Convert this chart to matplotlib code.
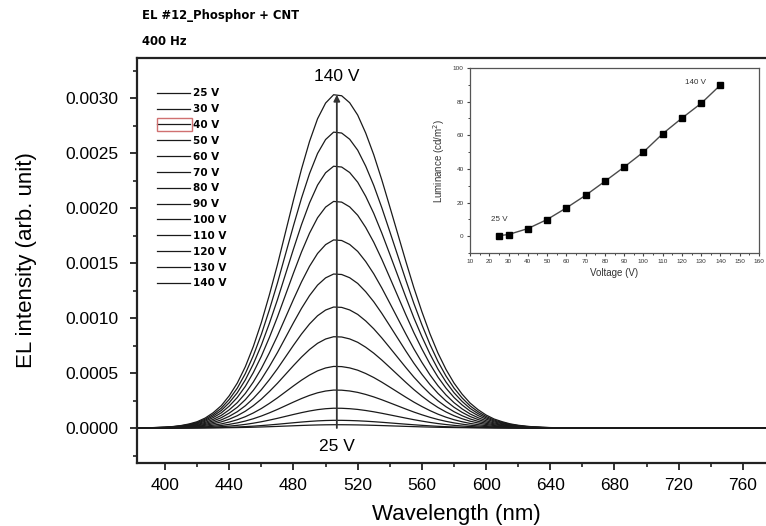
import numpy as np
import matplotlib
matplotlib.use('Agg')
import matplotlib.pyplot as plt
from matplotlib.ticker import MultipleLocator, FormatStrFormatter
from matplotlib.patches import Rectangle

# applied voltages and peak EL intensity
voltages = [25, 30, 40, 50, 60, 70, 80, 90, 100, 110, 120, 130, 140]
peak_intensity = [0.00003, 0.00007, 0.00018, 0.000345, 0.00056, 0.00083, 0.0011,
                  0.0014, 0.00171, 0.00206, 0.00238, 0.00269, 0.00303]

# normalised spectral shape
wavelength = [380, 390, 400, 405, 410, 415, 420, 425, 430, 435, 440, 445, 450, 455,
              460, 465, 470, 475, 480, 485, 490, 495, 500, 505, 510, 515, 520, 525,
              530, 535, 540, 545, 550, 555, 560, 565, 570, 575, 580, 585, 590, 595,
              600, 605, 610, 615, 620, 625, 630, 635, 640, 650, 660, 780]
shape = [0.0, 0.0008, 0.0026, 0.0045, 0.0075, 0.0122, 0.019, 0.030, 0.046, 0.067,
         0.097, 0.135, 0.184, 0.245, 0.317, 0.40, 0.49, 0.587, 0.684, 0.777, 0.86,
         0.928, 0.975, 1.0, 0.997, 0.976, 0.939, 0.885, 0.82, 0.745, 0.664, 0.582,
         0.50, 0.421, 0.349, 0.283, 0.225, 0.176, 0.135, 0.102, 0.075, 0.055, 0.039,
         0.027, 0.019, 0.0125, 0.0083, 0.0054, 0.0034, 0.0021, 0.0013, 0.0004, 0.0, 0.0]

# inset: luminance vs voltage
luminance = [0.3, 1.0, 4.5, 9.9, 16.8, 24.3, 32.6, 41.1, 50.0, 60.9, 70.2, 79.0, 89.9]

plt.rcParams['font.family'] = ['Liberation Sans', 'DejaVu Sans']

W, H = 766, 526
fig = plt.figure(figsize=(W / 100, H / 100), dpi=100)
ax = fig.add_axes([137 / W, (H - 463) / H, 638 / W, 405 / H])

shape = np.array(shape)
for v, p in zip(voltages, peak_intensity):
    ax.plot(wavelength, p * shape, color='#1a1a1a', lw=0.9, label=f'{v} V')

ax.set_xlim(382.5, 780)
ax.set_ylim(-0.000318, 0.003364)
ax.xaxis.set_major_locator(MultipleLocator(40))
ax.xaxis.set_minor_locator(MultipleLocator(20))
ax.yaxis.set_major_locator(MultipleLocator(0.0005))
ax.yaxis.set_minor_locator(MultipleLocator(0.00025))
ax.yaxis.set_major_formatter(FormatStrFormatter('%.4f'))
ax.tick_params(which='major', length=5, width=1.3, labelsize=12.5, color='#222222')
ax.tick_params(which='minor', length=3, width=1.2, color='#222222')
ax.tick_params(axis='y', which='major', pad=8.5)
ax.tick_params(axis='x', which='major', pad=5.5)
ax.tick_params(top=False, right=False)
for s in ax.spines.values():
    s.set_linewidth(1.6)
    s.set_color('#222222')
ax.set_xlabel('Wavelength (nm)', fontsize=16, labelpad=8)
ax.set_ylabel('EL intensity (arb. unit)', fontsize=16, labelpad=20)

# arrow from 25 V to 140 V
peak_wl = 507
ax.annotate('', xy=(peak_wl, peak_intensity[-1]), xytext=(peak_wl, 0),
            arrowprops=dict(arrowstyle='-|>', color='#333333', lw=1.3,
                            mutation_scale=9, shrinkA=0, shrinkB=0))
ax.text(peak_wl, 0.00320, '140 V', ha='center', va='center', fontsize=12.5)
ax.text(peak_wl, -0.00017, '25 V', ha='center', va='center', fontsize=12.5)

leg = ax.legend(loc='upper left', bbox_to_anchor=(0.031, 0.925), frameon=False,
                prop={'family': 'DejaVu Sans', 'weight': 'bold', 'size': 7.5},
                handlelength=3.2, handletextpad=0.3, labelspacing=0.56,
                borderpad=0, borderaxespad=0)

fig.add_artist(Rectangle((157 / W, (H - 131) / H), 35 / W, 13 / H,
                         transform=fig.transFigure, fill=False,
                         edgecolor='#d07070', lw=1.0))

fig.text(142 / W, 1 - 16 / H, 'EL #12_Phosphor + CNT', fontsize=8.4,
         fontweight='bold', family='DejaVu Sans', va='center', ha='left')
fig.text(142 / W, 1 - 41 / H, '400 Hz', fontsize=8.4,
         fontweight='bold', family='DejaVu Sans', va='center', ha='left')

# inset
ins = fig.add_axes([470 / W, (H - 253) / H, 289 / W, 185 / H])
ins.plot(voltages, luminance, color='#4a4a4a', lw=1.0, marker='s',
         markersize=4.2, markerfacecolor='black', markeredgecolor='black')
ins.set_xlim(10, 160)
ins.set_ylim(-10, 100)
ins.xaxis.set_major_locator(MultipleLocator(10))
ins.xaxis.set_minor_locator(MultipleLocator(5))
ins.yaxis.set_major_locator(MultipleLocator(20))
ins.yaxis.set_minor_locator(MultipleLocator(10))
ins.tick_params(which='major', length=2.5, width=0.8, labelsize=4.6, pad=2,
                color='#444444', labelcolor='#333333')
ins.tick_params(which='minor', length=1.5, width=0.7, color='#444444')
for s in ins.spines.values():
    s.set_linewidth(0.9)
    s.set_color('#555555')
ins.set_xlabel('Voltage (V)', fontsize=7, labelpad=3, color='#333333')
ins.set_ylabel('Luminance (cd/m$^2$)', fontsize=7, labelpad=4, color='#333333')
ins.text(25, 10, '25 V', fontsize=5.8, ha='center', va='center', color='#333333')
ins.text(127, 91.5, '140 V', fontsize=5.8, ha='center', va='center', color='#333333')

fig.savefig('out.png', dpi=100)
